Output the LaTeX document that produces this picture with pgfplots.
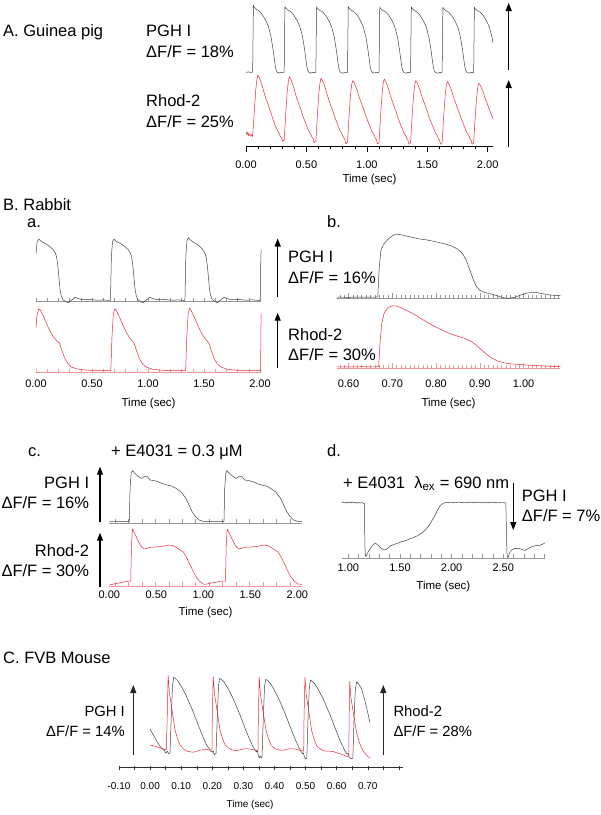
\documentclass[border=0pt]{standalone}
\usepackage{fontspec}
\setmainfont{Liberation Sans}
\usepackage{pgfplots}
\pgfplotsset{compat=1.18}
\usetikzlibrary{arrows.meta}
\definecolor{trk}{RGB}{65,65,65}
\definecolor{trr}{RGB}{232,40,52}
\definecolor{axk}{RGB}{150,150,150}
\definecolor{axr}{RGB}{245,150,150}
\newcommand\lab{\fontsize{16.5}{18}\selectfont}
\newcommand\labC{\fontsize{14.8}{17}\selectfont}
\newcommand\head{\fontsize{16.5}{18}\selectfont}
\pgfplotsset{
  panelbase/.style={
    scale only axis, clip=false,
    axis x line*=bottom, axis y line=none,
    ymin=0, ytick=\empty,
    xticklabel style={font=\fontsize{11}{13}\selectfont, anchor=center},
    xlabel style={font=\fontsize{11.5}{13}\selectfont, at={(axis description cs:0.5,0)}, anchor=center},
    every axis plot/.append style={line width=0.5pt, line join=round, mark=none},
  },
  grayax/.style={x axis line style={-, axk, line width=0.5pt}, tick style={axk, line width=0.4pt}, tick align=inside},
  pinkax/.style={x axis line style={-, axr, line width=0.5pt}, tick style={axr, line width=0.4pt}, tick align=inside},
}
\begin{document}
\begin{tikzpicture}[x=1pt,y=1pt]
\useasboundingbox (0,0) rectangle (601,-815);
% ================= Panel A =================
\begin{axis}[panelbase, at={(246pt,-146.7pt)}, anchor=south west,
  width=247pt, height=144.7pt, xmin=0, xmax=2.044, ymax=144.7,
  xtick={0,0.5,1,1.5,2}, xticklabels={0.00,0.50,1.00,1.50,2.00}, minor tick num=4,
  x axis line style={-, black, line width=0.6pt}, tick style={black, line width=0.5pt},
  tick align=outside, major tick length=5pt, minor tick length=2.7pt,
  xticklabel style={yshift=-13.3pt},
  xlabel={Time (sec)}, xlabel style={yshift=-33pt}]
\addplot[trk] coordinates {(0,74.3)(0.02,74.8)(0.04,74.2)(0.054,74.6)
(0.055,75)(0.061,141.5)(0.067,139.8)(0.085,137.5)(0.110,135.5)(0.135,132)(0.165,126)(0.185,120.5)(0.207,110)(0.223,98)(0.234,88)(0.243,80)(0.251,76)(0.260,74.3)(0.275,73.8)(0.295,74.5)(0.313,74.2)
(0.316,75)(0.322,140)(0.328,138.8)(0.346,136.8)(0.371,135)(0.396,131.5)(0.426,125.5)(0.446,120)(0.468,110)(0.484,98)(0.495,88)(0.504,80)(0.512,76)(0.521,74.3)(0.536,73.6)(0.556,74.4)(0.574,74)
(0.578,75)(0.584,140)(0.590,138.5)(0.608,136.5)(0.633,135)(0.658,131.5)(0.688,125.5)(0.708,120)(0.730,110)(0.746,98)(0.757,88)(0.766,80)(0.774,76)(0.783,74.3)(0.798,73.5)(0.818,74.2)(0.836,74)
(0.840,75)(0.846,140)(0.852,138.5)(0.870,136.5)(0.895,134.8)(0.920,131.5)(0.950,125.5)(0.970,120)(0.992,110)(1.008,98)(1.019,88)(1.028,80)(1.036,76)(1.045,74.3)(1.060,73.6)(1.080,74.4)(1.098,74)
(1.101,75)(1.107,139.8)(1.113,138.3)(1.131,136.3)(1.156,134.8)(1.181,131.5)(1.211,125.5)(1.231,120)(1.253,110)(1.269,98)(1.280,88)(1.289,80)(1.297,76)(1.306,74.3)(1.321,73.5)(1.341,74.3)(1.359,74)
(1.362,75)(1.368,139.8)(1.374,138.3)(1.392,136.3)(1.417,134.5)(1.442,131)(1.472,125)(1.492,119.5)(1.514,109.5)(1.530,97.5)(1.541,87.5)(1.550,80)(1.558,76)(1.567,74.3)(1.582,73.5)(1.602,74.3)(1.620,74)
(1.623,75)(1.629,139.5)(1.635,138)(1.653,136)(1.678,134.5)(1.703,131)(1.733,125)(1.753,119.5)(1.775,109.5)(1.791,97.5)(1.802,87.5)(1.811,80)(1.819,76)(1.828,74.3)(1.843,73.5)(1.863,74.3)(1.881,74)
(1.884,75)(1.890,139.5)(1.896,138)(1.914,136)(1.939,134.5)(1.964,131)(1.994,125)(2.014,119.5)(2.036,109.5)(2.044,104)};
\addplot[trr] coordinates {(0,15)(0.008,12)(0.015,14.5)(0.022,11)(0.03,13)(0.04,10.5)(0.05,12)(0.055,10)
(0.067,32)(0.080,56)(0.090,67)(0.098,71.7)(0.110,69)(0.122,65.5)(0.135,60.5)(0.150,54)(0.165,47.5)(0.180,43.5)(0.195,37.5)(0.208,33.5)(0.220,28.5)(0.233,24)(0.245,20)(0.260,16.5)(0.275,13)(0.285,10)(0.295,9)(0.303,5.5)(0.310,6.7)
(0.316,6)(0.328,31)(0.341,55)(0.351,66)(0.359,70)(0.371,67.5)(0.383,63.5)(0.396,59)(0.411,52)(0.426,46.5)(0.441,41.5)(0.456,36.5)(0.468,31.5)(0.481,27.5)(0.494,23.5)(0.506,19.5)(0.521,15)(0.536,12.5)(0.546,9.5)(0.556,8)(0.564,4)(0.571,4.9)
(0.578,5)(0.590,30)(0.603,54)(0.613,64.5)(0.621,68.4)(0.633,66)(0.645,62.5)(0.658,58)(0.673,51.5)(0.688,46)(0.703,40.5)(0.718,36)(0.730,31)(0.743,27)(0.756,23)(0.768,19)(0.783,15)(0.798,12)(0.808,9)(0.818,7.5)(0.826,3)(0.833,3.4)
(0.840,4.5)(0.852,29)(0.865,52)(0.875,62.5)(0.883,66)(0.895,64)(0.907,60.5)(0.920,56.5)(0.935,50)(0.950,45)(0.965,40)(0.980,35.5)(0.992,30.5)(1.005,26.5)(1.018,22.5)(1.030,19)(1.045,14.5)(1.060,12)(1.070,8.5)(1.080,7)(1.088,3)(1.095,3.4)
(1.101,4)(1.113,30)(1.126,53)(1.136,64)(1.144,67.7)(1.156,65)(1.168,61.5)(1.181,57)(1.196,50.5)(1.211,45.5)(1.226,40)(1.241,35.5)(1.253,30.5)(1.266,26.5)(1.279,22)(1.291,18.5)(1.306,14)(1.321,11.5)(1.331,8)(1.341,6.5)(1.349,2.5)(1.356,2.7)
(1.362,4)(1.374,29)(1.387,52)(1.397,62.5)(1.405,66)(1.417,64)(1.429,60)(1.442,56)(1.457,49.5)(1.472,45)(1.487,39.5)(1.502,35)(1.514,30)(1.527,26)(1.540,22)(1.552,18.5)(1.567,14)(1.582,11.5)(1.592,8)(1.602,6.5)(1.610,2.5)(1.617,2.7)
(1.623,4)(1.635,29)(1.648,51)(1.658,61.5)(1.666,65)(1.678,63)(1.690,59.5)(1.703,55.5)(1.718,49)(1.733,44.5)(1.748,39)(1.763,34.5)(1.775,30)(1.788,26)(1.801,22)(1.813,18.5)(1.828,14)(1.843,11.5)(1.853,8)(1.863,6.5)(1.871,2.5)(1.878,3)
(1.884,4.5)(1.896,28)(1.909,50)(1.919,60)(1.927,63.4)(1.939,61.5)(1.951,58)(1.964,54.5)(1.979,48)(1.994,44)(2.009,38.5)(2.024,34)(2.036,30.5)(2.044,28)};
\end{axis}
% ================= Panel B a =================
\begin{axis}[panelbase, grayax, at={(36pt,-301.7pt)}, anchor=south west,
  width=225.1pt, height=66pt, xmin=0, xmax=2.01, ymax=66,
  xtick={0,0.5,1,1.5,2}, xticklabels={}, minor xtick={0,0.1,...,2.0},
  major tick length=4pt, minor tick length=4pt]
\addplot[trk] coordinates {(0,48)(0.01,60)(0.025,62.5)(0.045,60.5)(0.095,57.5)(0.125,55)(0.155,52)(0.175,48)(0.185,44)(0.195,36)(0.205,24)(0.215,12)(0.225,6)(0.24,2)(0.265,0)(0.29,-1)(0.31,1)(0.35,4.5)(0.38,3)(0.42,2)(0.48,2.3)(0.54,1.5)(0.6,1.8)(0.66,1.3)
(0.665,1.5)(0.673,45)(0.683,60)(0.695,62.5)(0.715,60.5)(0.765,57.5)(0.795,55)(0.825,52)(0.845,48)(0.855,44)(0.865,36)(0.875,24)(0.885,12)(0.895,6)(0.91,2)(0.935,0)(0.955,-1)(0.975,1)(1.015,4.5)(1.045,3)(1.085,2)(1.145,2.3)(1.205,1.5)(1.265,1.8)(1.325,1.3)
(1.33,1.5)(1.338,46)(1.348,61)(1.36,64)(1.38,61.5)(1.43,58)(1.46,55.5)(1.49,52)(1.51,48)(1.52,44)(1.53,36)(1.54,24)(1.55,12)(1.56,6)(1.575,2)(1.6,0)(1.62,-1)(1.64,1)(1.68,4.5)(1.71,3)(1.75,2)(1.81,2.3)(1.87,1.5)(1.93,1.8)(1.998,1.3)
(2.002,1.5)(2.006,35)(2.01,52)};
\end{axis}
\begin{axis}[panelbase, pinkax, at={(36pt,-372.7pt)}, anchor=south west,
  width=225.1pt, height=66pt, xmin=0, xmax=2.01, ymax=66,
  xtick={0,0.5,1,1.5,2}, xticklabels={0.00,0.50,1.00,1.50,2.00}, minor xtick={0,0.1,...,2.0},
  major tick length=4pt, minor tick length=4pt,
  xticklabel style={yshift=-10.6pt},
  xlabel={Time (sec)}, xlabel style={yshift=-30.5pt}]
\addplot[trr] coordinates {(0,45)(0.01,58)(0.025,64)(0.04,62.5)(0.07,55.5)(0.1,47.5)(0.13,40.5)(0.16,35)(0.185,32)(0.21,29.5)(0.23,22.5)(0.255,15)(0.285,9)(0.315,5.8)(0.365,3.8)(0.445,2.6)(0.545,2.1)(0.66,2)
(0.668,2)(0.678,35)(0.69,58)(0.703,64)(0.718,62)(0.748,55)(0.778,47)(0.808,40)(0.838,34.5)(0.863,31.5)(0.878,29)(0.898,22)(0.923,14)(0.953,8.5)(0.988,5.5)(1.038,3.5)(1.118,2.5)(1.218,2)(1.333,2)
(1.336,2)(1.346,35)(1.358,58)(1.371,64.5)(1.386,62)(1.416,55)(1.446,47)(1.476,40)(1.506,34.5)(1.531,31.5)(1.546,29)(1.566,22)(1.591,14)(1.621,8.5)(1.656,5.5)(1.706,3.5)(1.786,2.5)(1.886,2)(2.002,2)
(2.005,2)(2.008,35)(2.01,59)};
\end{axis}
% ================= Panel B b =================
\begin{axis}[panelbase, grayax, at={(336.7pt,-298.3pt)}, anchor=south west,
  width=223.6pt, height=66pt, xmin=0.573, xmax=1.084, ymax=66,
  xtick={0.6,0.7,0.8,0.9,1.0}, xticklabels={}, minor xtick={0.58,0.59,...,1.08},
  major tick length=5pt, minor tick length=3pt]
\addplot[trk] coordinates {(0.573,1.2)(0.6,1)(0.63,1.3)(0.66,1.1)(0.667,1.5)(0.670,30)(0.674,48)(0.680,54)(0.690,59)(0.700,62.5)(0.710,64.3)(0.720,63.5)(0.74,61.5)(0.76,59.5)(0.78,58.3)(0.80,56.5)(0.82,54.5)(0.835,52.5)(0.85,49)(0.86,45)(0.868,39)(0.876,30)(0.884,20)(0.892,12)(0.90,8)(0.91,6)(0.925,4.5)(0.94,2.5)(0.955,0.5)(0.965,0)(0.98,1)(0.995,3.5)(1.01,5.5)(1.03,5.7)(1.045,4.5)(1.06,3.3)(1.084,2.6)};
\end{axis}
\begin{axis}[panelbase, pinkax, at={(336.7pt,-368.3pt)}, anchor=south west,
  width=223.6pt, height=66pt, xmin=0.573, xmax=1.084, ymax=66,
  xtick={0.6,0.7,0.8,0.9,1.0}, xticklabels={0.60,0.70,0.80,0.90,1.00}, minor xtick={0.58,0.59,...,1.08},
  major tick length=5pt, minor tick length=3pt,
  xticklabel style={yshift=-15pt},
  xlabel={Time (sec)}, xlabel style={yshift=-35.5pt}]
\addplot[trr] coordinates {(0.573,1.5)(0.6,1.3)(0.63,1.6)(0.66,1.4)(0.669,1.8)(0.672,25)(0.676,45)(0.682,56)(0.69,60.5)(0.70,62.5)(0.71,62.3)(0.72,60.5)(0.735,57.5)(0.75,54)(0.77,48.5)(0.79,43.5)(0.81,39)(0.83,35)(0.85,32)(0.865,30)(0.88,27)(0.895,22)(0.91,16)(0.925,11)(0.94,7.5)(0.955,5.5)(0.97,4.5)(0.99,3.8)(1.01,3.2)(1.03,2.7)(1.05,2.2)(1.07,1.9)(1.084,1.7)};
\end{axis}
% ================= Panel B c =================
\begin{axis}[panelbase, grayax, at={(109.3pt,-523pt)}, anchor=south west,
  width=192.7pt, height=56pt, xmin=0, xmax=2.05, ymax=56,
  xtick={0,0.5,1,1.5,2}, xticklabels={}, major tick length=0pt,
  minor xtick={0.061,0.204,0.347,0.49,0.633,0.776,0.919,1.062,1.205,1.348,1.491,1.634,1.777,1.92}, minor tick length=4pt]
\addplot[trk] coordinates {(0,1.5)(0.05,1.2)(0.1,1.6)(0.15,1.3)(0.2,1.7)(0.213,1.5)
(0.221,35)(0.233,50)(0.246,52.4)(0.273,49.5)(0.303,47)(0.343,44.5)(0.373,46.5)(0.403,46.5)(0.433,43)(0.473,42.5)(0.513,41.5)(0.563,39.5)(0.613,38)(0.663,37)(0.713,34.5)(0.763,31)(0.813,25)(0.843,19)(0.883,11)(0.913,7)(0.953,3)(1.013,1.3)(1.113,1.4)(1.163,1.6)(1.22,1.5)
(1.228,35)(1.24,50)(1.253,52.4)(1.28,49.5)(1.31,47)(1.35,44.5)(1.38,46.5)(1.41,46.5)(1.44,43)(1.48,42.5)(1.52,41.5)(1.57,39.5)(1.62,38)(1.67,37)(1.72,34.5)(1.77,31)(1.82,25)(1.85,19)(1.89,11)(1.92,7)(1.96,3)(2.02,1.3)(2.05,1.3)};
\end{axis}
\begin{axis}[panelbase, pinkax, at={(109.3pt,-586pt)}, anchor=south west,
  width=192.7pt, height=56pt, xmin=0, xmax=2.05, ymax=56,
  xtick={0,0.5,1,1.5,2}, xticklabels={0.00,0.50,1.00,1.50,2.00}, major tick length=0pt,
  minor xtick={0.061,0.204,0.347,0.49,0.633,0.776,0.919,1.062,1.205,1.348,1.491,1.634,1.777,1.92}, minor tick length=4pt,
  xticklabel style={yshift=-9pt},
  xlabel={Time (sec)}, xlabel style={yshift=-27pt}]
\addplot[trr] coordinates {(0,1)(0.05,2)(0.1,3)(0.15,4)(0.2,4.8)(0.228,5)
(0.236,40)(0.246,57)(0.258,55)(0.288,49)(0.318,43)(0.348,38.5)(0.378,37)(0.408,38)(0.448,39)(0.498,39)(0.558,39.5)(0.638,41)(0.688,40)(0.738,37)(0.788,34)(0.828,27.5)(0.878,17.5)(0.918,10)(0.958,5)(0.998,2)(1.028,1.7)(1.078,3)(1.128,3.7)(1.198,5)(1.236,5)
(1.244,40)(1.254,57)(1.266,55)(1.296,49)(1.326,43)(1.356,38.5)(1.386,37)(1.416,38)(1.456,39)(1.506,39)(1.566,39.5)(1.646,41)(1.696,40)(1.746,37)(1.796,34)(1.836,27.5)(1.886,17.5)(1.926,10)(1.966,5)(2.006,2)(2.036,1.7)(2.05,1.8)};
\end{axis}
% ================= Panel B d =================
\begin{axis}[panelbase, grayax, at={(341.7pt,-558pt)}, anchor=south west,
  width=203.3pt, height=60pt, xmin=0.936, xmax=2.904, ymax=60,
  xtick={1,1.5,2,2.5}, xticklabels={1.00,1.50,2.00,2.50}, minor xtick={1.0,1.1,...,2.9},
  major tick length=4pt, minor tick length=4pt,
  xticklabel style={yshift=-10pt},
  xlabel={Time (sec)}, xlabel style={yshift=-28.7pt}]
\addplot[trk] coordinates {(0.936,55.3)(0.95,56.1)(0.965,55.0)(0.98,55.8)(0.995,54.9)(1.01,55.9)(1.025,55.2)(1.04,56.0)(1.055,55.1)(1.07,55.7)(1.085,54.8)(1.10,55.6)(1.115,55.0)(1.13,55.5)(1.145,54.7)(1.155,54.9)(1.158,30)(1.162,8)(1.166,2)(1.172,1.5)(1.18,3.5)(1.19,5.5)(1.2,7.5)(1.215,9.5)(1.23,12)(1.245,13.5)(1.26,14.7)(1.275,14)(1.29,12.5)(1.31,10.5)(1.33,9)(1.35,8)(1.37,8.8)(1.39,10.5)(1.41,12.3)(1.43,13)(1.45,13.8)(1.47,14.5)(1.49,15.2)(1.51,16.3)(1.53,16.5)(1.55,17.4)(1.57,18)(1.59,19)(1.61,19.6)(1.63,20.5)(1.65,21.4)(1.67,22.2)(1.69,23.5)(1.71,25)(1.73,26.5)(1.75,28.5)(1.77,31)(1.79,34)(1.81,37.5)(1.83,41)(1.85,45)(1.87,49)(1.89,52.5)(1.91,54)(1.93,55)(1.95,55.6)(1.97,55.2)(1.99,56)(2.01,55.3)(2.03,55.9)(2.05,55.4)(2.07,56.1)(2.09,55.3)(2.11,55.8)(2.13,55.1)(2.15,55.9)(2.17,55.4)(2.19,56)(2.21,55.2)(2.23,55.8)(2.25,55.3)(2.27,55.9)(2.29,55.2)(2.31,55.7)(2.33,55.1)(2.35,55.8)(2.37,55.3)(2.39,55.9)(2.41,55.2)(2.43,55.6)(2.45,55.0)(2.47,55.7)(2.49,55.1)(2.51,55.4)(2.525,54.8)(2.53,30)(2.535,6)(2.54,1)(2.548,0.5)(2.555,3)(2.565,6)(2.58,8)(2.6,9)(2.615,9.7)(2.63,9.2)(2.65,9.6)(2.67,9)(2.69,8.2)(2.71,7.5)(2.73,8.8)(2.75,10)(2.77,11)(2.79,11.8)(2.81,12.3)(2.83,12.8)(2.85,12.5)(2.87,13.5)(2.89,14.2)(2.904,15.3)};
\end{axis}
% ================= Panel C =================
\begin{axis}[panelbase, at={(119pt,-767.7pt)}, anchor=south west,
  width=283.6pt, height=95pt, xmin=-0.1, xmax=0.812, ymax=95,
  xtick={-0.1,0,0.1,0.2,0.3,0.4,0.5,0.6,0.7}, xticklabels={-0.10,0.00,0.10,0.20,0.30,0.40,0.50,0.60,0.70},
  minor xtick={-0.05,0.05,0.15,0.25,0.35,0.45,0.55,0.65,0.75,0.8},
  x axis line style={-, black!80, line width=0.5pt}, tick style={black!80, line width=0.4pt},
  tick align=center, major tick length=4pt, minor tick length=4pt,
  xticklabel style={font=\fontsize{10}{12}\selectfont, yshift=-16.6pt},
  xlabel={Time (sec)}, xlabel style={font=\fontsize{10}{12}\selectfont, at={(axis description cs:0.462,0)}, yshift=-37.3pt}]
\addplot[trk] coordinates {(0,38.7)(0.008,34)(0.016,30)(0.024,25)(0.032,21.5)(0.04,18.5)(0.046,17)(0.05,14.5)(0.055,16.5)(0.06,14)(0.064,15)
(0.068,50)(0.072,82)(0.076,90.4)(0.082,89)(0.09,86.5)(0.1,81.5)(0.108,77)(0.117,71.5)(0.128,63.5)(0.139,55.5)(0.15,46.5)(0.16,38.5)(0.171,30)(0.182,22.5)(0.188,20)(0.194,17)(0.2,15.5)(0.203,17)(0.206,13)(0.212,14.4)
(0.216,50)(0.22,82)(0.224,89.4)(0.23,88)(0.238,85.5)(0.248,80.5)(0.256,76)(0.265,70.5)(0.276,62.5)(0.287,54.5)(0.298,45.5)(0.308,37.5)(0.319,29)(0.33,21.5)(0.336,18.5)(0.342,15.5)(0.345,17)(0.348,13)(0.351,10)(0.354,12)(0.357,9.5)(0.36,11)
(0.364,50)(0.368,81)(0.372,88.4)(0.378,87)(0.386,84.5)(0.396,79.5)(0.404,75)(0.413,69.5)(0.424,61.5)(0.435,53.5)(0.446,44.5)(0.456,36.5)(0.467,28)(0.478,20.5)(0.484,17)(0.49,14)(0.493,15)(0.496,11)(0.5,8.5)(0.504,9.4)
(0.508,50)(0.512,80)(0.516,87.7)(0.522,86.2)(0.53,83.7)(0.54,78.7)(0.548,74)(0.557,68.7)(0.568,60.7)(0.579,52.7)(0.59,43.7)(0.6,35.7)(0.611,27)(0.622,19.7)(0.628,16)(0.634,13.5)(0.637,14.5)(0.64,11)(0.646,9)(0.652,9.4)
(0.656,50)(0.66,78)(0.664,86)(0.67,84)(0.68,79)(0.69,68)(0.7,55)(0.707,45)};
\addplot[trr] coordinates {(0,22.7)(0.01,22)(0.02,21)(0.03,20)(0.04,19)(0.05,18)(0.052,18)
(0.055,50)(0.058,92.7)(0.062,75)(0.069,61)(0.08,38)(0.088,29)(0.096,23)(0.106,19)(0.117,16.7)(0.13,15.8)(0.14,15.5)(0.15,16.5)(0.16,17.5)(0.17,17.8)(0.18,18.5)(0.19,17.8)(0.195,17.5)(0.199,18)
(0.2,50)(0.203,91)(0.207,74)(0.214,60)(0.225,37.5)(0.233,29)(0.241,23)(0.251,20)(0.262,18)(0.275,17.2)(0.285,17.5)(0.295,18.5)(0.305,19)(0.315,18.8)(0.325,18.5)(0.335,17.8)(0.34,17)(0.347,17.5)
(0.348,50)(0.351,90.4)(0.355,73)(0.362,59)(0.373,37)(0.381,28.5)(0.389,22.5)(0.399,19.5)(0.41,18)(0.42,17.5)(0.43,17.5)(0.44,18.5)(0.45,19)(0.46,18.8)(0.47,18.5)(0.48,17.5)(0.485,17)(0.494,16.5)
(0.495,50)(0.498,90.4)(0.502,73)(0.509,59)(0.52,36.5)(0.528,28)(0.536,22)(0.546,19)(0.557,17)(0.568,16.5)(0.58,16.5)(0.59,16)(0.6,15)(0.61,14)(0.62,13)(0.628,12)(0.635,11)(0.639,11.5)
(0.64,48)(0.642,86)(0.646,70)(0.653,56)(0.664,35)(0.672,26)(0.68,20)(0.687,16)(0.695,13)(0.701,11)(0.707,9.7)};
\end{axis}
% ================= Text and scale arrows =================
\tikzset{arr/.style={-{Triangle[width=6pt,length=8pt]}, line width=1.2pt, black}}
\tikzset{tx/.style={inner sep=0pt, anchor=base west}}
\node[tx] at (3,-36) {\head A. Guinea pig};
\node[tx] at (146,-36) {\lab PGH I};
\node[tx] at (146,-57) {\lab ΔF/F = 18\%};
\node[tx] at (146,-106) {\lab Rhod-2};
\node[tx] at (146,-127) {\lab ΔF/F = 25\%};
\draw[arr] (508.7,-70) -- (508.7,-3);
\draw[arr] (508.7,-146.7) -- (508.7,-80);
\node[tx] at (3,-210) {\head B. Rabbit};
\node[tx] at (27,-227) {\lab a.};
\node[tx] at (327,-227) {\lab b.};
\node[tx] at (288,-262.7) {\lab PGH I};
\node[tx] at (288,-283.3) {\lab ΔF/F = 16\%};
\node[tx] at (288,-340) {\lab Rhod-2};
\node[tx] at (288,-360) {\lab ΔF/F = 30\%};
\draw[arr] (277.7,-296.7) -- (277.7,-238.5);
\draw[arr] (277.7,-368) -- (277.7,-312.7);
\node[tx] at (28,-456.7) {\lab c.};
\node[tx] at (327,-456.7) {\lab d.};
\node[inner sep=0pt, anchor=base] at (177,-456.7) {\lab + E4031 = 0.3 μM};
\node[inner sep=0pt, anchor=base east] at (89.3,-488.3) {\lab PGH I};
\node[inner sep=0pt, anchor=base east] at (89.3,-508.3) {\lab ΔF/F = 16\%};
\node[inner sep=0pt, anchor=base east] at (89.3,-556.7) {\lab Rhod-2};
\node[inner sep=0pt, anchor=base east] at (89.3,-576.7) {\lab ΔF/F = 30\%};
\draw[arr] (100,-521.7) -- (100,-466.7);
\draw[arr] (100,-586.7) -- (100,-532.7);
\node[tx] at (343,-488.3) {\lab + E4031\ \ λ\textsubscript{ex} = 690 nm};
\node[tx] at (521.7,-501.7) {\lab PGH I};
\node[tx] at (521.7,-521.7) {\lab ΔF/F = 7\%};
\draw[arr] (513.3,-483.3) -- (513.3,-530);
\node[tx] at (3,-663.3) {\head C. FVB Mouse};
\node[inner sep=0pt, anchor=base east] at (125,-716.7) {\labC PGH I};
\node[inner sep=0pt, anchor=base east] at (125,-736.7) {\labC ΔF/F = 14\%};
\node[tx] at (393.3,-716.7) {\labC Rhod-2};
\node[tx] at (393.3,-736.7) {\labC ΔF/F = 28\%};
\draw[arr, black!85] (133.3,-755) -- (133.3,-685);
\draw[arr, black!85] (383.3,-755) -- (383.3,-685);
\end{tikzpicture}
\end{document}
